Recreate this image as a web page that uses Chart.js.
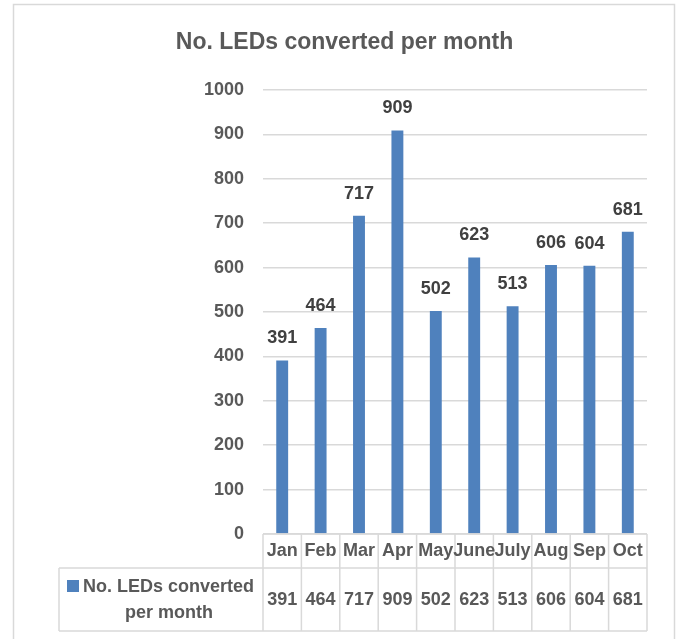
<!DOCTYPE html>
<html>
<head>
<meta charset="utf-8">
<script src="https://cdn.jsdelivr.net/npm/chart.js@4"></script>
<style>
  html, body { margin: 0; padding: 0; background: #fff; }
  #wrap { width: 681px; height: 639px; }
</style>
</head>
<body>
<div id="wrap"><canvas id="ledChart" width="681" height="639"></canvas></div>
<script>
// chart data
const months = ['Jan', 'Feb', 'Mar', 'Apr', 'May', 'June', 'July', 'Aug', 'Sep', 'Oct'];
const ledsConverted = [391, 464, 717, 909, 502, 623, 513, 606, 604, 681];
const seriesName = 'No. LEDs converted per month';
const legendLines = ['No. LEDs converted', 'per month'];
const yTicks = [0, 100, 200, 300, 400, 500, 600, 700, 800, 900, 1000];

const FONT = '"Liberation Sans", Arial, sans-serif';
const barColor = '#4F81BD';
const lineColor = '#D9D9D9';

// frame around the whole chart, like the excel chart border
const framePlugin = {
    id: 'frame',
    beforeDraw(chart) {
        const ctx = chart.ctx;
        ctx.save();
        ctx.strokeStyle = lineColor;
        ctx.lineWidth = 1.5;
        ctx.strokeRect(13.5, 4.5, 661, 660);
        ctx.restore();
    }
};

// value labels above the bars
const valueLabels = {
    id: 'valueLabels',
    afterDatasetsDraw(chart) {
        const ctx = chart.ctx;
        const meta = chart.getDatasetMeta(0);
        ctx.save();
        ctx.font = 'bold 18px ' + FONT;
        ctx.fillStyle = '#404040';
        ctx.textAlign = 'center';
        ctx.textBaseline = 'alphabetic';
        meta.data.forEach(function(bar, i) {
            ctx.fillText(String(ledsConverted[i]), bar.x, bar.y - 17);
        });
        ctx.restore();
    }
};

// data table under the plot area
const dataTable = {
    id: 'dataTable',
    afterDraw(chart) {
        const ctx = chart.ctx;
        const xScale = chart.scales.x;
        const area = chart.chartArea;
        const colW = (area.right - area.left) / months.length;
        const top = area.bottom;
        const mid = top + 34;
        const bottom = top + 97;
        const legendLeft = 59;

        ctx.save();
        ctx.strokeStyle = lineColor;
        ctx.lineWidth = 1.5;
        ctx.beginPath();
        ctx.moveTo(area.left, top); ctx.lineTo(area.right, top);
        ctx.moveTo(legendLeft, mid); ctx.lineTo(area.right, mid);
        ctx.moveTo(legendLeft, bottom); ctx.lineTo(area.right, bottom);
        ctx.moveTo(legendLeft, mid); ctx.lineTo(legendLeft, bottom);
        for (let k = 0; k <= months.length; k++) {
            const x = area.left + k * colW;
            ctx.moveTo(x, top); ctx.lineTo(x, bottom);
        }
        ctx.stroke();

        ctx.font = 'bold 18px ' + FONT;
        ctx.fillStyle = '#595959';
        ctx.textAlign = 'center';
        ctx.textBaseline = 'middle';
        months.forEach(function(m, i) {
            const x = xScale.getPixelForValue(i);
            ctx.fillText(m, x, top + 17);
            ctx.fillText(String(ledsConverted[i]), x, mid + 32);
        });

        // legend cell
        ctx.fillStyle = barColor;
        ctx.fillRect(67, mid + 12, 12, 12);
        ctx.fillStyle = '#595959';
        ctx.textAlign = 'left';
        ctx.textBaseline = 'alphabetic';
        ctx.fillText(legendLines[0], 83, mid + 24);
        ctx.textAlign = 'center';
        ctx.fillText(legendLines[1], 169, mid + 50);
        ctx.restore();
    }
};

new Chart(document.getElementById('ledChart').getContext('2d'), {
    type: 'bar',
    data: {
        labels: months,
        datasets: [{
            label: seriesName,
            data: ledsConverted,
            backgroundColor: barColor,
            borderWidth: 0,
            categoryPercentage: 1,
            barPercentage: 0.31
        }]
    },
    options: {
        responsive: false,
        animation: false,
        layout: {
            padding: { left: 42, right: 34, top: 0, bottom: 105 }
        },
        plugins: {
            legend: { display: false },
            tooltip: { enabled: false },
            title: {
                display: true,
                text: seriesName,
                color: '#595959',
                font: { family: FONT, size: 23, weight: 'bold', lineHeight: 1.2 },
                padding: { top: 29, bottom: 33.4 }
            }
        },
        scales: {
            x: {
                display: false
            },
            y: {
                min: yTicks[0],
                max: yTicks[yTicks.length - 1],
                afterFit: function(scale) { scale.width = 221; },
                afterBuildTicks: function(scale) {
                    scale.ticks = yTicks.map(function(v) { return { value: v }; });
                },
                border: { display: false },
                grid: { color: lineColor, lineWidth: 1.5, drawTicks: false },
                ticks: {
                    padding: 19,
                    color: '#595959',
                    font: { family: FONT, size: 18, weight: 'bold' },
                    callback: function(value) { return String(value); }
                }
            }
        }
    },
    plugins: [framePlugin, valueLabels, dataTable]
});
</script>
</body>
</html>
